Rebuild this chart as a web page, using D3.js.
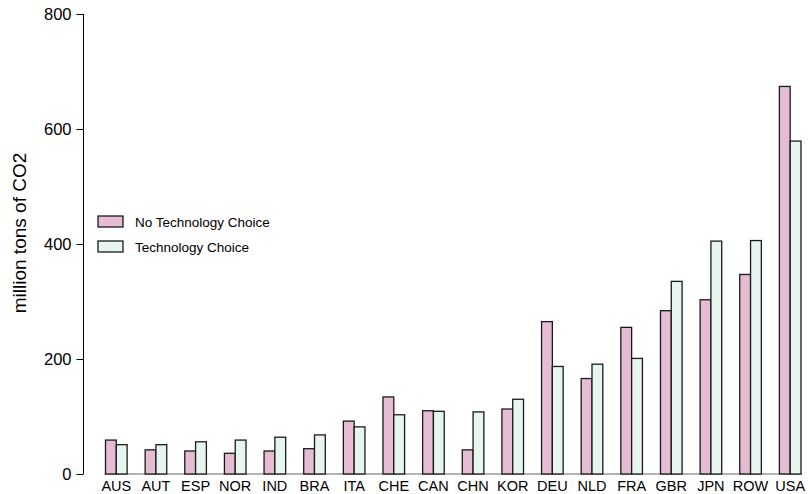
<!DOCTYPE html>
<html>
<head>
<meta charset="utf-8">
<script src="https://cdn.jsdelivr.net/npm/d3@7"></script>
<style>
  html, body { margin: 0; padding: 0; background: #fff; }
  svg { display: block; font-family: "Liberation Sans", Arial, Helvetica, sans-serif; }
</style>
</head>
<body>
<svg id="chart" width="808" height="494"></svg>
<script>
// CO2 emissions by region, with and without technology choice (million tons)
const regions = ["AUS","AUT","ESP","NOR","IND","BRA","ITA","CHE","CAN","CHN","KOR","DEU","NLD","FRA","GBR","JPN","ROW","USA"];
const noTechChoice = [59, 42, 40, 36, 40, 44, 92, 134, 110, 42, 113, 265, 166, 255, 284, 303, 347, 674];
const techChoice   = [51, 51, 56, 59, 64, 68, 82, 103, 109, 108, 130, 187, 191, 201, 335, 405, 406, 579];
const seriesNames  = ["No Technology Choice", "Technology Choice"];
const seriesFill   = ["#e6bcd4", "#e6f6ef"];
const yTicks = [0, 200, 400, 600, 800];

const svg = d3.select("#chart");

const y = d3.scaleLinear().domain([0, 800]).range([474, 14]);
const x = d3.scaleBand().domain(regions).range([105.5, 801]).paddingInner(0.455).paddingOuter(0);
const xSeries = d3.scaleBand().domain([0, 1]).range([0, x.bandwidth()]);

// baseline under the bars
svg.append("line")
  .attr("x1", x.range()[0] - 1).attr("x2", x.range()[1] + 1)
  .attr("y1", y(0)).attr("y2", y(0))
  .attr("stroke", "#9a9a9a").attr("stroke-width", 1.5);

// grouped bars
const groups = svg.append("g").selectAll("g")
  .data(regions)
  .join("g")
  .attr("transform", d => `translate(${x(d)},0)`);

groups.selectAll("rect")
  .data((d, i) => [noTechChoice[i], techChoice[i]])
  .join("rect")
  .attr("x", (d, j) => xSeries(j))
  .attr("width", xSeries.bandwidth())
  .attr("y", d => y(d))
  .attr("height", d => y(0) - y(d))
  .attr("fill", (d, j) => seriesFill[j])
  .attr("stroke", "#1a1a1a")
  .attr("stroke-width", 1.3);

// category labels
svg.append("g").selectAll("text")
  .data(regions)
  .join("text")
  .attr("x", d => x(d) + x.bandwidth() / 2)
  .attr("y", 490.5)
  .attr("text-anchor", "middle")
  .attr("font-size", 14.5)
  .attr("fill", "#000")
  .text(d => d);

// y axis
const yAxis = d3.axisLeft(y).tickValues(yTicks).tickSize(7).tickPadding(5).tickFormat(d3.format("d"));
const ya = svg.append("g").attr("transform", "translate(83.5,0)").call(yAxis);
ya.select(".domain").attr("d", `M0,${y(0)}V${y(800)}`).attr("stroke", "#000");
ya.selectAll(".tick line").attr("stroke", "#000");
ya.selectAll(".tick text")
  .attr("font-size", 16.5)
  .attr("font-family", "Liberation Sans, Arial, sans-serif")
  .attr("fill", "#000");

// y axis title
svg.append("text")
  .attr("transform", "translate(26,233) rotate(-90)")
  .attr("text-anchor", "middle")
  .attr("font-size", 19)
  .attr("fill", "#000")
  .text("million tons of CO2");

// legend
const legend = svg.append("g").attr("transform", "translate(98,216)");
const items = legend.selectAll("g")
  .data(seriesNames)
  .join("g")
  .attr("transform", (d, i) => `translate(0,${i * 25})`);
items.append("rect")
  .attr("width", 25).attr("height", 11)
  .attr("fill", (d, i) => seriesFill[i])
  .attr("stroke", "#1a1a1a").attr("stroke-width", 1.3);
items.append("text")
  .attr("x", 37).attr("y", 10.5)
  .attr("font-size", 13.5)
  .attr("fill", "#000")
  .text(d => d);
</script>
</body>
</html>
